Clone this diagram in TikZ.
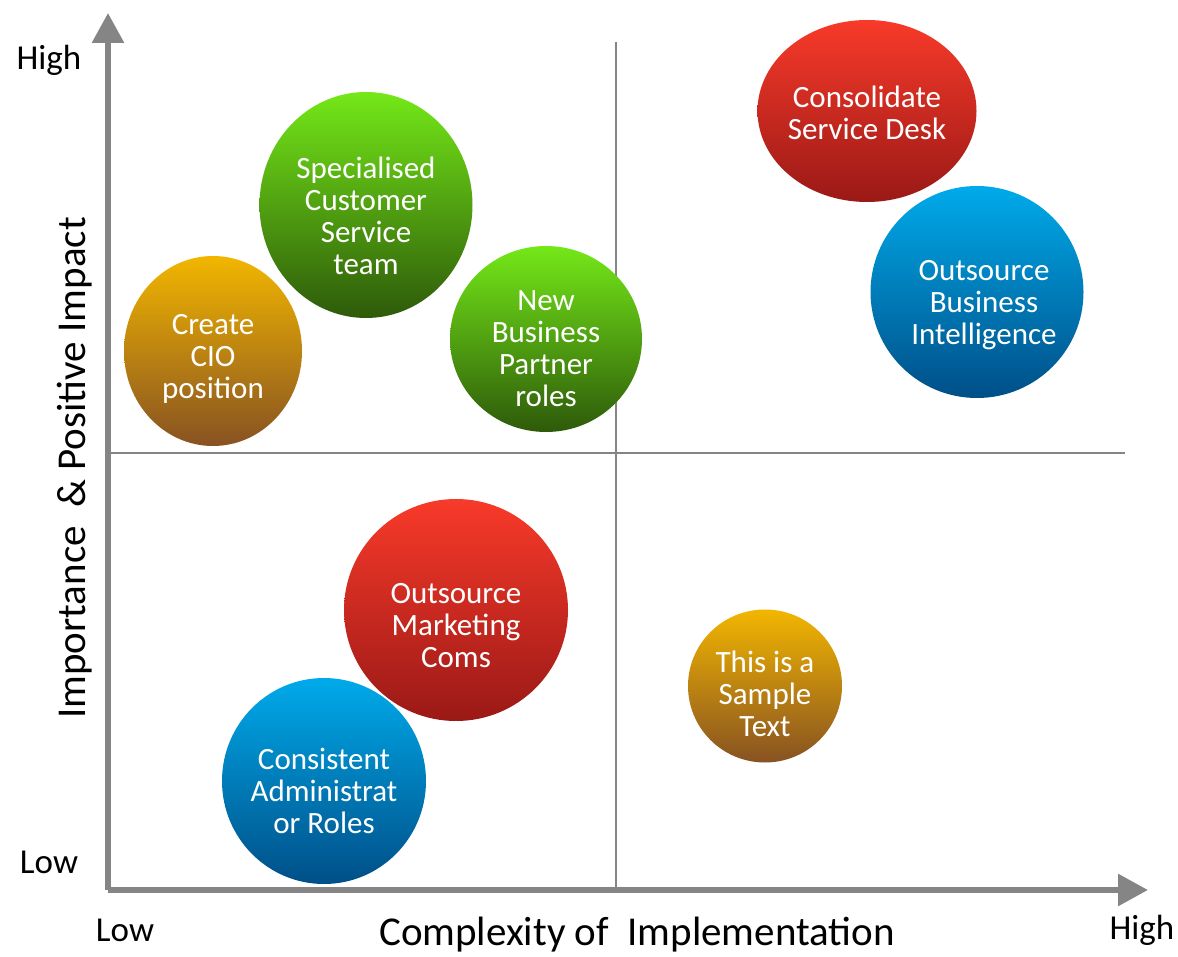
\documentclass[tikz,border=0pt]{standalone}
\usepackage{fontspec}
\setmainfont{Carlito}
\usetikzlibrary{shapes.geometric,arrows.meta}
\definecolor{axisgray}{HTML}{858585}
\definecolor{redtop}{HTML}{F83A2A}
\definecolor{redbot}{HTML}{9A1916}
\definecolor{greentop}{HTML}{74E818}
\definecolor{greenbot}{HTML}{2E5A0A}
\definecolor{orangetop}{HTML}{F2B600}
\definecolor{orangebot}{HTML}{875222}
\definecolor{bluetop}{HTML}{00AAEA}
\definecolor{bluebot}{HTML}{004F88}
\begin{document}
\begin{tikzpicture}[
    x=1pt, y=-1pt,
    axis/.style={draw=axisgray, line width=6pt, -{Triangle[length=30pt,width=31pt]}},
    quadline/.style={draw=axisgray, line width=1.6pt},
    bubble/.style={ellipse, inner sep=0pt},
    redbubble/.style={bubble, top color=redtop, bottom color=redbot},
    greenbubble/.style={bubble, top color=greentop, bottom color=greenbot},
    orangebubble/.style={bubble, top color=orangetop, bottom color=orangebot},
    bluebubble/.style={bubble, top color=bluetop, bottom color=bluebot},
    bubbletext/.style={inner sep=0pt, text=white, align=center,
        font=\fontsize{31}{32}\selectfont},
    endlabel/.style={font=\fontsize{35}{40}\selectfont, inner sep=0pt},
    axislabel/.style={font=\fontsize{41}{46}\selectfont, inner sep=0pt}
]
\useasboundingbox (0,0) rectangle (1178,957);

% axes and quadrants
\coordinate (origin) at (108,890);
\coordinate (ytip) at (108,13);
\coordinate (xtip) at (1148,890);
\coordinate (vtop) at (616,42);
\coordinate (vbot) at (616,890);
\coordinate (hleft) at (108,453);
\coordinate (hright) at (1125,453);
\draw[quadline] (vtop) -- (vbot);
\draw[quadline] (hleft) -- (hright);
\draw[axis] (origin) -- (ytip);
\draw[axis] (origin) -- (xtip);

% bubbles
\node[redbubble, minimum width=219pt, minimum height=182pt] (consolidate) at (867,111) {};
\node[bluebubble, minimum width=213pt, minimum height=212pt] (intelligence) at (977,292) {};
\node[greenbubble, minimum width=213pt, minimum height=226pt] (customer) at (366,205) {};
\node[orangebubble, minimum width=178pt, minimum height=190pt] (cio) at (213,351) {};
\node[greenbubble, minimum width=192pt, minimum height=186pt] (partner) at (546,339) {};
\node[redbubble, minimum width=224pt, minimum height=222pt] (marketing) at (456,610) {};
\node[bluebubble, minimum width=204pt, minimum height=206pt] (admin) at (324,781) {};
\node[orangebubble, minimum width=154pt, minimum height=153pt] (sample) at (765,686) {};

% bubble texts
\node[bubbletext] (consolidate-t) at (867,113) {Consolidate\\Service Desk};
\node[bubbletext] (intelligence-t) at (984,305) {Outsource\\Business\\Intelligence};
\node[bubbletext] (customer-t) at (366,216) {Specialised\\Customer\\Service\\team};
\node[bubbletext] (cio-t) at (213,359) {Create\\CIO\\position};
\node[bubbletext] (partner-t) at (546,349) {New\\Business\\Partner\\roles};
\node[bubbletext] (marketing-t) at (456,626) {Outsource\\Marketing\\Coms};
\node[bubbletext] (admin-t) at (324,791) {Consistent\\Administrat\\or Roles};
\node[bubbletext] (sample-t) at (765,694) {This is a\\Sample\\Text};

% axis labels
\node[endlabel] (yhigh) at (49,60) {High};
\node[endlabel] (ylow) at (49,862) {Low};
\node[endlabel] (xlow) at (125,930) {Low};
\node[endlabel] (xhigh) at (1142,930) {High};
\node[axislabel] (xname) at (637,935) {Complexity of\ \ Implementation};
\node[axislabel, rotate=90] (yname) at (75,468) {Importance\ \ \& Positive Impact};
\end{tikzpicture}
\end{document}
